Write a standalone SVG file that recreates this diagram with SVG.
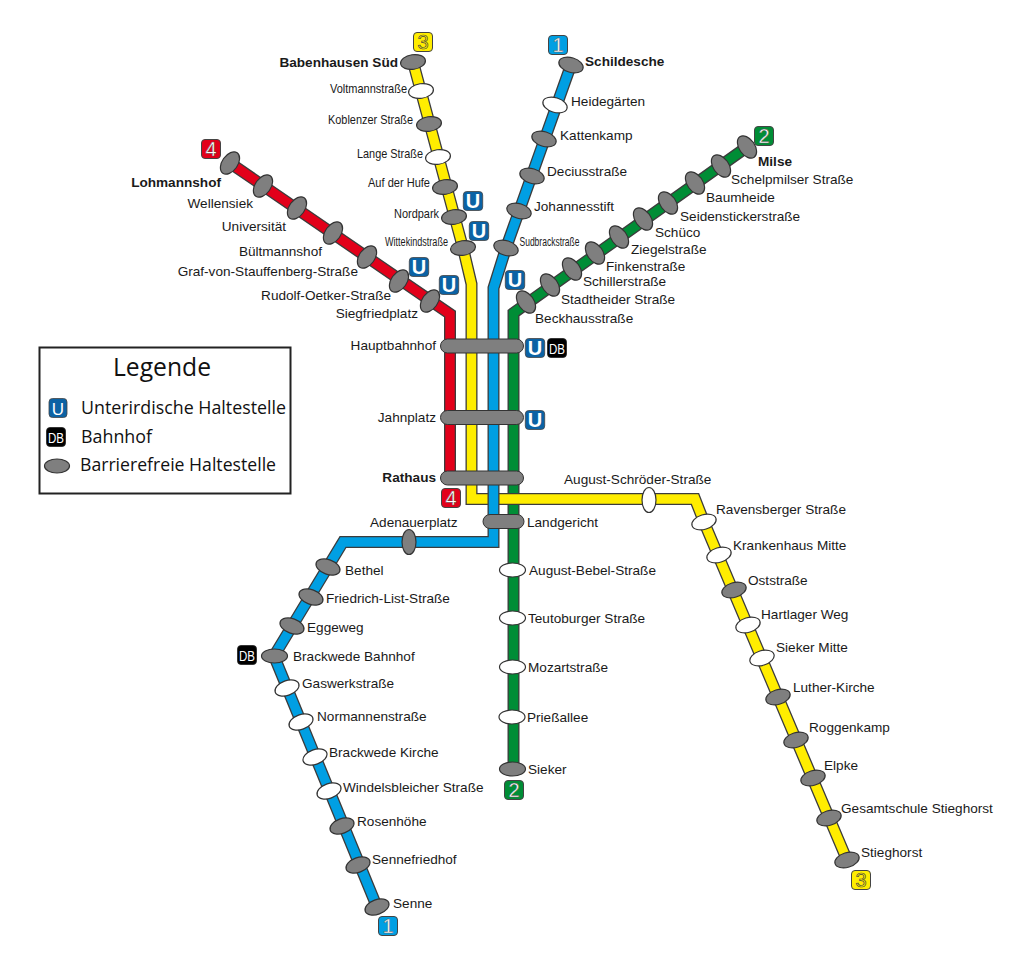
<svg xmlns="http://www.w3.org/2000/svg" width="1024" height="956" viewBox="0 0 1024 956">
<style>
text{font-family:"Liberation Sans",Arial,sans-serif;font-size:13.6px;fill:#1a1a1a}
.b{font-weight:bold}
.e{text-anchor:end}
.c{fill:none;stroke:#3c3c3c;stroke-width:12;stroke-linejoin:miter;stroke-miterlimit:6}
.l{fill:none;stroke-width:9.4;stroke-linejoin:miter;stroke-miterlimit:6}
.g{fill:#7f7f7f;stroke:#333;stroke-width:1.2}
.w{fill:#fff;stroke:#333;stroke-width:1.2}
.bar{fill:#7f7f7f;stroke:#333;stroke-width:1}
.num{stroke:#444;stroke-width:1;rx:3.5}
.lg{font-family:"Open Sans","Noto Sans",sans-serif;fill:#111}
.d{text-anchor:middle;font-size:20px;fill:#fff;stroke:#555;stroke-width:.4}
.u{text-anchor:middle;font-size:20px;font-weight:bold;fill:#fff}
.db{text-anchor:middle;font-size:15px;fill:#fff}
.ub{fill:#0b62a4;stroke:#444;stroke-width:.8}
.dbb{fill:#000;stroke:#222;stroke-width:.8}
.n{font-size:13px}
.s{font-size:12px}
</style>
<defs>
<g id="ubadge"><rect class="ub" x="-9.700" y="-9.500" width="19.400" height="19" rx="3.500"/><text class="u" x="0" y="7.200">U</text></g>
<g id="dbbadge"><rect class="dbb" x="-9.500" y="-9.500" width="19" height="19" rx="3.500"/><text class="db" x="0" y="5.500" textLength="16" lengthAdjust="spacingAndGlyphs">DB</text></g>
</defs>
<g id="connectors">
<path id="line4-casing" class="c" d="M230,163 L450,314 V477"/>
<path id="line4" class="l" stroke="#e2001a" d="M230,163 L450,314 V477"/>
<path id="line2-casing" class="c" d="M747,147 L513.500,313 V769"/>
<path id="line2" class="l" stroke="#008d36" d="M747,147 L513.500,313 V769"/>
<path id="line3-casing" class="c" d="M413,62 L463,248 L471.500,284 V499 H695 L704,522 L847,860"/>
<path id="line3" class="l" stroke="#ffed00" d="M413,62 L463,248 L471.500,284 V499 H695 L704,522 L847,860"/>
<path id="line1-casing" class="c" d="M571,65 L506,248 L493.500,288 V542 H343 L274,656 L377,907"/>
<path id="line1" class="l" stroke="#009fe3" d="M571,65 L506,248 L493.500,288 V542 H343 L274,656 L377,907"/>
</g>
<g id="stations-line3-north">
<g id="s-babenhausen"><ellipse class="g" rx="12.500" ry="7.300" transform="translate(413,62) rotate(-8)"/><text class="b e" x="398" y="66.500">Babenhausen Süd</text></g>
<g id="s-voltmann"><ellipse class="w" rx="12.500" ry="7.300" transform="translate(421,91) rotate(-8)"/><text class="n" x="330" y="92.500" textLength="77" lengthAdjust="spacingAndGlyphs">Voltmannstraße</text></g>
<g id="s-koblenzer"><ellipse class="g" rx="12.500" ry="7.300" transform="translate(429,124) rotate(-8)"/><text class="n" x="328" y="123.500" textLength="85" lengthAdjust="spacingAndGlyphs">Koblenzer Straße</text></g>
<g id="s-lange"><ellipse class="w" rx="12.500" ry="7.300" transform="translate(438,157) rotate(-8)"/><text class="n" x="357" y="157.500" textLength="66" lengthAdjust="spacingAndGlyphs">Lange Straße</text></g>
<g id="s-hufe"><ellipse class="g" rx="12.500" ry="7.300" transform="translate(445,187) rotate(-8)"/><text class="n" x="368" y="186.500" textLength="62" lengthAdjust="spacingAndGlyphs">Auf der Hufe</text></g>
<g id="s-nordpark"><ellipse class="g" rx="12.500" ry="7.300" transform="translate(454,217) rotate(-8)"/><text class="n" x="394" y="217.500" textLength="45" lengthAdjust="spacingAndGlyphs">Nordpark</text></g>
<g id="s-wittekind"><ellipse class="g" rx="12.500" ry="7.300" transform="translate(463,248) rotate(-8)"/><text class="s" x="385" y="246" textLength="63" lengthAdjust="spacingAndGlyphs">Wittekindstraße</text></g>
</g>
<g id="stations-line4">
<g id="s-lohmannshof"><ellipse class="g" rx="12.500" ry="7.800" transform="translate(230,163) rotate(-55)"/><text class="b e" x="221" y="186.500">Lohmannshof</text></g>
<g id="s-wellensiek"><ellipse class="g" rx="12.500" ry="7.800" transform="translate(263,186) rotate(-55)"/><text class="e" x="253" y="207.500">Wellensiek</text></g>
<g id="s-universitaet"><ellipse class="g" rx="12.500" ry="7.800" transform="translate(297,208) rotate(-55)"/><text class="e" x="286" y="230.500">Universität</text></g>
<g id="s-bueltmannshof"><ellipse class="g" rx="12.500" ry="7.800" transform="translate(333,233) rotate(-55)"/><text class="e" x="322" y="255.500">Bültmannshof</text></g>
<g id="s-stauffenberg"><ellipse class="g" rx="12.500" ry="7.800" transform="translate(367,257) rotate(-55)"/><text class="e" x="358" y="275.500">Graf-von-Stauffenberg-Straße</text></g>
<g id="s-oetker"><ellipse class="g" rx="12.500" ry="7.800" transform="translate(399,281) rotate(-55)"/><text class="e" x="391" y="299.500">Rudolf-Oetker-Straße</text></g>
<g id="s-siegfried"><ellipse class="g" rx="12.500" ry="7.800" transform="translate(430,301) rotate(-55)"/><text class="e" x="418" y="317.500">Siegfriedplatz</text></g>
</g>
<g id="stations-line1-north">
<g id="s-schildesche"><ellipse class="g" rx="12.500" ry="7.300" transform="translate(571,65) rotate(17)"/><text class="b" x="585" y="65.500">Schildesche</text></g>
<g id="s-heidegaerten"><ellipse class="w" rx="12.500" ry="7.300" transform="translate(555,105) rotate(17)"/><text x="571" y="105.500">Heidegärten</text></g>
<g id="s-kattenkamp"><ellipse class="g" rx="12.500" ry="7.300" transform="translate(544,139) rotate(17)"/><text x="560" y="139.500">Kattenkamp</text></g>
<g id="s-decius"><ellipse class="g" rx="12.500" ry="7.300" transform="translate(532,176) rotate(17)"/><text x="547" y="175.500">Deciusstraße</text></g>
<g id="s-johannes"><ellipse class="g" rx="12.500" ry="7.300" transform="translate(519,211) rotate(17)"/><text x="534" y="210.500">Johannesstift</text></g>
<g id="s-sudbrack"><ellipse class="g" rx="12.500" ry="7.300" transform="translate(506,248) rotate(17)"/><text class="s" x="519.500" y="246" textLength="60" lengthAdjust="spacingAndGlyphs">Sudbrackstraße</text></g>
</g>
<g id="stations-line2-north">
<g id="s-milse"><ellipse class="g" rx="12.500" ry="7.800" transform="translate(747,147) rotate(55)"/><text class="b" x="758" y="165.500">Milse</text></g>
<g id="s-schelpmilser"><ellipse class="g" rx="12.500" ry="7.800" transform="translate(721,166) rotate(55)"/><text x="731" y="183.500">Schelpmilser Straße</text></g>
<g id="s-baumheide"><ellipse class="g" rx="12.500" ry="7.800" transform="translate(695,183) rotate(55)"/><text x="706" y="201.500">Baumheide</text></g>
<g id="s-seidensticker"><ellipse class="g" rx="12.500" ry="7.800" transform="translate(668,203) rotate(55)"/><text x="680" y="220.500">Seidenstickerstraße</text></g>
<g id="s-schueco"><ellipse class="g" rx="12.500" ry="7.800" transform="translate(643,219) rotate(55)"/><text x="655" y="236.500">Schüco</text></g>
<g id="s-ziegel"><ellipse class="g" rx="12.500" ry="7.800" transform="translate(619,237) rotate(55)"/><text x="631" y="253.500">Ziegelstraße</text></g>
<g id="s-finken"><ellipse class="g" rx="12.500" ry="7.800" transform="translate(595,253) rotate(55)"/><text x="606" y="270.500">Finkenstraße</text></g>
<g id="s-schiller"><ellipse class="g" rx="12.500" ry="7.800" transform="translate(572,269) rotate(55)"/><text x="583" y="285.500">Schillerstraße</text></g>
<g id="s-stadtheider"><ellipse class="g" rx="12.500" ry="7.800" transform="translate(550,285) rotate(55)"/><text x="561" y="303.500">Stadtheider Straße</text></g>
<g id="s-beckhaus"><ellipse class="g" rx="12.500" ry="7.800" transform="translate(526,302) rotate(55)"/><text x="535" y="322.500">Beckhausstraße</text></g>
</g>
<g id="stations-center">
<g id="s-hauptbahnhof"><rect class="bar" x="440.500" y="339" width="83" height="14" rx="7"/><text class="e" x="436" y="349.500">Hauptbahnhof</text></g>
<g id="s-jahnplatz"><rect class="bar" x="440.500" y="410.500" width="83" height="14" rx="7"/><text class="e" x="436" y="421.500">Jahnplatz</text></g>
<g id="s-rathaus"><rect class="bar" x="440.500" y="471" width="83" height="14" rx="7"/><text class="b e" x="436" y="481.500">Rathaus</text></g>
<g id="s-landgericht"><rect class="bar" x="483" y="514.500" width="41" height="14" rx="7"/><text x="527" y="526.500">Landgericht</text></g>
</g>
<g id="stations-line2-south">
<g id="s-bebel"><ellipse class="w" cx="512.500" cy="570" rx="13" ry="7"/><text x="529" y="574.500">August-Bebel-Straße</text></g>
<g id="s-teutoburger"><ellipse class="w" cx="512.500" cy="618" rx="13" ry="7"/><text x="528" y="622.500">Teutoburger Straße</text></g>
<g id="s-mozart"><ellipse class="w" cx="512.500" cy="667" rx="13" ry="7"/><text x="528" y="671.500">Mozartstraße</text></g>
<g id="s-priess"><ellipse class="w" cx="512" cy="717" rx="13" ry="7"/><text x="527" y="722">Prießallee</text></g>
<g id="s-sieker"><ellipse class="g" cx="512.500" cy="769" rx="13" ry="7"/><text x="528" y="773.500">Sieker</text></g>
</g>
<g id="stations-line1-south">
<g id="s-adenauer"><ellipse class="g" cx="409" cy="542" rx="7" ry="12.500"/><text x="370" y="526.500">Adenauerplatz</text></g>
<g id="s-bethel"><ellipse class="g" rx="12.500" ry="7.300" transform="translate(328,567) rotate(20)"/><text x="345" y="574.500">Bethel</text></g>
<g id="s-friedrich"><ellipse class="g" rx="12.500" ry="7.300" transform="translate(311,597) rotate(20)"/><text x="326" y="602.500">Friedrich-List-Straße</text></g>
<g id="s-eggeweg"><ellipse class="g" rx="12.500" ry="7.300" transform="translate(292,626) rotate(20)"/><text x="307" y="631.500">Eggeweg</text></g>
<g id="s-brackwede-bf"><ellipse class="g" cx="274.500" cy="656" rx="13" ry="7"/><text x="293" y="660.500">Brackwede Bahnhof</text></g>
<g id="s-gaswerk"><ellipse class="w" rx="12.500" ry="7.300" transform="translate(287,688) rotate(-20)"/><text x="302" y="687.500">Gaswerkstraße</text></g>
<g id="s-normannen"><ellipse class="w" rx="12.500" ry="7.300" transform="translate(301,722) rotate(-20)"/><text x="317" y="720.500">Normannenstraße</text></g>
<g id="s-brackwede-k"><ellipse class="w" rx="12.500" ry="7.300" transform="translate(315,757) rotate(-20)"/><text x="329" y="756.500">Brackwede Kirche</text></g>
<g id="s-windels"><ellipse class="w" rx="12.500" ry="7.300" transform="translate(329,791) rotate(-20)"/><text x="343" y="791.500">Windelsbleicher Straße</text></g>
<g id="s-rosenhoehe"><ellipse class="g" rx="12.500" ry="7.300" transform="translate(342,826) rotate(-20)"/><text x="357" y="825.500">Rosenhöhe</text></g>
<g id="s-sennefriedhof"><ellipse class="g" rx="12.500" ry="7.300" transform="translate(358,865) rotate(-20)"/><text x="372" y="863.500">Sennefriedhof</text></g>
<g id="s-senne"><ellipse class="g" rx="12.500" ry="7.300" transform="translate(377,907) rotate(-20)"/><text x="393" y="907.500">Senne</text></g>
</g>
<g id="stations-line3-south">
<g id="s-schroeder"><ellipse class="w" cx="649" cy="500" rx="7" ry="12.500"/><text x="564" y="483.500">August-Schröder-Straße</text></g>
<g id="s-ravensberger"><ellipse class="w" rx="12.500" ry="7.300" transform="translate(704,522) rotate(-17)"/><text x="716" y="513.500">Ravensberger Straße</text></g>
<g id="s-krankenhaus"><ellipse class="w" rx="12.500" ry="7.300" transform="translate(719,555) rotate(-17)"/><text x="733" y="549.500">Krankenhaus Mitte</text></g>
<g id="s-oststrasse"><ellipse class="g" rx="12.500" ry="7.300" transform="translate(734,590) rotate(-17)"/><text x="748" y="584.500">Oststraße</text></g>
<g id="s-hartlager"><ellipse class="w" rx="12.500" ry="7.300" transform="translate(748,625) rotate(-17)"/><text x="761" y="618.500">Hartlager Weg</text></g>
<g id="s-sieker-mitte"><ellipse class="w" rx="12.500" ry="7.300" transform="translate(762,658) rotate(-17)"/><text x="776" y="651.500">Sieker Mitte</text></g>
<g id="s-luther"><ellipse class="g" rx="12.500" ry="7.300" transform="translate(778,697) rotate(-17)"/><text x="793" y="691.500">Luther-Kirche</text></g>
<g id="s-roggenkamp"><ellipse class="g" rx="12.500" ry="7.300" transform="translate(796,740) rotate(-17)"/><text x="809" y="731.500">Roggenkamp</text></g>
<g id="s-elpke"><ellipse class="g" rx="12.500" ry="7.300" transform="translate(813,778) rotate(-17)"/><text x="824" y="769.500">Elpke</text></g>
<g id="s-gesamtschule"><ellipse class="g" rx="12.500" ry="7.300" transform="translate(829,818) rotate(-17)"/><text x="841" y="812.500">Gesamtschule Stieghorst</text></g>
<g id="s-stieghorst"><ellipse class="g" rx="12.500" ry="7.300" transform="translate(847,860) rotate(-17)"/><text x="861" y="856.500">Stieghorst</text></g>
</g>
<g id="line-badges">
<g id="badge-3a" transform="translate(423,42)"><rect class="num" fill="#ffed00" x="-9.500" y="-9.500" width="19" height="19"/><text class="d" y="7" style="fill:#ffed00;stroke:#444;stroke-width:.7">3</text></g>
<g id="badge-3b" transform="translate(861,880)"><rect class="num" fill="#ffed00" x="-9.500" y="-9.500" width="19" height="19"/><text class="d" y="7" style="fill:#ffed00;stroke:#444;stroke-width:.7">3</text></g>
<g id="badge-4a" transform="translate(211,149)"><rect class="num" fill="#e2001a" x="-9.500" y="-9.500" width="19" height="19"/><text class="d" y="7">4</text></g>
<g id="badge-4b" transform="translate(451,498)"><rect class="num" fill="#e2001a" x="-9.500" y="-9.500" width="19" height="19"/><text class="d" y="7">4</text></g>
<g id="badge-1a" transform="translate(558,45)"><rect class="num" fill="#009fe3" x="-9.500" y="-9.500" width="19" height="19"/><text class="d" y="7">1</text></g>
<g id="badge-1b" transform="translate(388,926)"><rect class="num" fill="#009fe3" x="-9.500" y="-9.500" width="19" height="19"/><text class="d" y="7">1</text></g>
<g id="badge-2a" transform="translate(764,136)"><rect class="num" fill="#008d36" x="-9.500" y="-9.500" width="19" height="19"/><text class="d" y="7">2</text></g>
<g id="badge-2b" transform="translate(514,790)"><rect class="num" fill="#008d36" x="-9.500" y="-9.500" width="19" height="19"/><text class="d" y="7">2</text></g>
</g>
<g id="u-db-badges">
<use href="#ubadge" x="473" y="201"/>
<use href="#ubadge" x="479" y="231"/>
<use href="#ubadge" x="419" y="267"/>
<use href="#ubadge" x="449" y="285"/>
<use href="#ubadge" x="515" y="280"/>
<use href="#ubadge" x="535" y="348"/>
<use href="#ubadge" x="535" y="420"/>
<use href="#dbbadge" x="557" y="348"/>
<use href="#dbbadge" x="247" y="655"/>
</g>
<g id="legend">
<rect x="39.500" y="347.500" width="251" height="146" fill="#fff" stroke="#222" stroke-width="2"/>
<text class="lg" x="113" y="376" style="font-size:25px" textLength="98" lengthAdjust="spacingAndGlyphs">Legende</text>
<g transform="translate(58,408)"><rect class="ub" x="-9" y="-9.500" width="18" height="19" rx="3.500"/><text class="u" y="6.500" style="font-weight:normal;font-size:17px">U</text></g>
<text class="lg" x="81" y="414" style="font-size:18px" textLength="205" lengthAdjust="spacingAndGlyphs">Unterirdische Haltestelle</text>
<use href="#dbbadge" x="56" y="437"/>
<text class="lg" x="81" y="443" style="font-size:18px" textLength="71" lengthAdjust="spacingAndGlyphs">Bahnhof</text>
<ellipse cx="57" cy="466" rx="12.500" ry="7" fill="#7f7f7f" stroke="#333" stroke-width="1.200"/>
<text class="lg" x="80" y="471" style="font-size:18px" textLength="196" lengthAdjust="spacingAndGlyphs">Barrierefreie Haltestelle</text>
</g>
</svg>
